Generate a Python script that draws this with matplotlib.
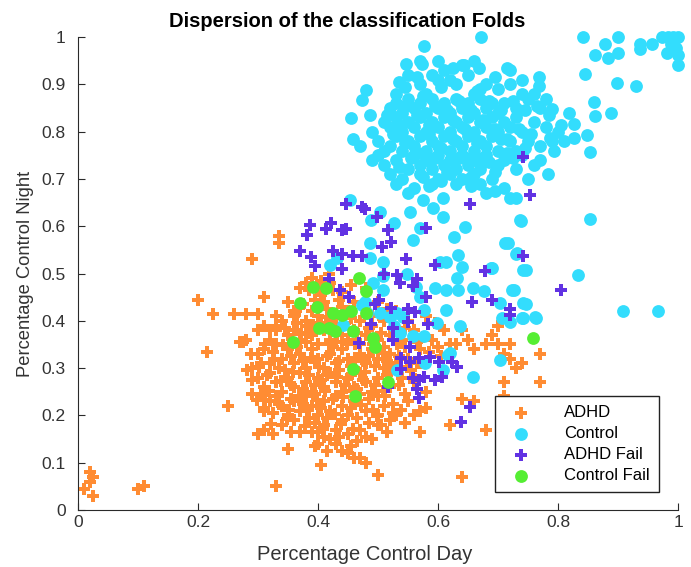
import numpy as np
import matplotlib.pyplot as plt

plt.rcParams['font.family'] = ['Liberation Sans', 'DejaVu Sans']

# (x, y) = (percentage control day, percentage control night)
adhd = [
    # stragglers
    (0.020, 0.080), (0.025, 0.070), (0.020, 0.060), (0.010, 0.045), (0.025, 0.030),
    (0.100, 0.045), (0.110, 0.050), (0.330, 0.050), (0.250, 0.220), (0.200, 0.445),
    (0.215, 0.335), (0.225, 0.415), (0.290, 0.530), (0.335, 0.580), (0.335, 0.565),
    (0.640, 0.070), (0.500, 0.075), (0.405, 0.095), (0.350, 0.130), (0.680, 0.170),
    (0.570, 0.165), (0.620, 0.180), (0.770, 0.330), (0.770, 0.270), (0.710, 0.270),
    (0.710, 0.240), (0.660, 0.230), (0.640, 0.235), (0.700, 0.390), (0.690, 0.370),
    (0.720, 0.350), (0.720, 0.320), (0.730, 0.300), (0.680, 0.350), (0.650, 0.360),
    (0.630, 0.350), (0.640, 0.380), (0.600, 0.345), (0.570, 0.340), (0.565, 0.310),
    (0.580, 0.215), (0.560, 0.200), (0.500, 0.200), (0.505, 0.180), (0.700, 0.350),
    (0.710, 0.330), (0.660, 0.340), (0.740, 0.310),
    (0.260, 0.415), (0.280, 0.415), (0.300, 0.415), (0.310, 0.390), (0.280, 0.360),
    (0.275, 0.355), (0.290, 0.275), (0.290, 0.245), (0.310, 0.215), (0.330, 0.380),
    (0.310, 0.450),
    # main cloud
    (0.39, 0.49), (0.40, 0.47), (0.37, 0.47), (0.42, 0.48), (0.44, 0.46), (0.46, 0.44),
    (0.48, 0.47), (0.50, 0.44), (0.35, 0.44), (0.36, 0.42),
    (0.33, 0.41), (0.34, 0.40), (0.36, 0.41), (0.37, 0.43), (0.38, 0.40), (0.39, 0.42),
    (0.41, 0.44), (0.43, 0.41), (0.45, 0.42), (0.47, 0.40), (0.49, 0.41), (0.51, 0.40),
    (0.53, 0.42), (0.55, 0.40), (0.58, 0.41), (0.42, 0.40), (0.40, 0.41), (0.44, 0.43),
    (0.31, 0.39), (0.32, 0.38),
    (0.30, 0.38), (0.32, 0.36), (0.33, 0.39), (0.35, 0.37), (0.36, 0.38), (0.37, 0.36),
    (0.38, 0.39), (0.39, 0.37), (0.40, 0.35), (0.41, 0.38), (0.42, 0.36), (0.43, 0.39),
    (0.44, 0.37), (0.45, 0.36), (0.46, 0.38), (0.47, 0.35), (0.48, 0.37), (0.49, 0.39),
    (0.50, 0.36), (0.52, 0.37), (0.54, 0.36), (0.56, 0.38), (0.59, 0.36), (0.61, 0.38),
    (0.62, 0.35), (0.33, 0.35), (0.38, 0.355), (0.43, 0.355), (0.51, 0.345), (0.28, 0.36),
    (0.27, 0.355),
    (0.30, 0.33), (0.31, 0.34), (0.32, 0.31), (0.34, 0.32), (0.35, 0.34), (0.36, 0.31),
    (0.37, 0.33), (0.38, 0.30), (0.39, 0.34), (0.40, 0.32), (0.41, 0.30), (0.42, 0.33),
    (0.43, 0.31), (0.44, 0.34), (0.45, 0.32), (0.46, 0.30), (0.47, 0.33), (0.48, 0.31),
    (0.49, 0.34), (0.50, 0.32), (0.51, 0.30), (0.52, 0.33), (0.53, 0.31), (0.55, 0.32),
    (0.57, 0.31), (0.335, 0.30), (0.365, 0.345), (0.395, 0.315), (0.425, 0.345),
    (0.455, 0.305), (0.485, 0.325), (0.515, 0.315), (0.29, 0.30), (0.305, 0.31),
    (0.30, 0.28), (0.31, 0.26), (0.32, 0.29), (0.33, 0.27), (0.34, 0.25), (0.35, 0.28),
    (0.36, 0.26), (0.37, 0.29), (0.38, 0.27), (0.39, 0.25), (0.40, 0.28), (0.41, 0.26),
    (0.42, 0.29), (0.43, 0.27), (0.44, 0.25), (0.45, 0.28), (0.46, 0.26), (0.47, 0.29),
    (0.48, 0.27), (0.49, 0.25), (0.50, 0.28), (0.52, 0.26), (0.54, 0.28), (0.56, 0.27),
    (0.58, 0.25), (0.345, 0.295), (0.375, 0.255), (0.405, 0.275), (0.435, 0.295),
    (0.465, 0.255),
    (0.31, 0.21), (0.32, 0.23), (0.33, 0.24), (0.34, 0.22), (0.35, 0.20), (0.36, 0.23),
    (0.37, 0.21), (0.38, 0.24), (0.39, 0.22), (0.40, 0.20), (0.41, 0.23), (0.42, 0.21),
    (0.43, 0.24), (0.44, 0.22), (0.45, 0.20), (0.46, 0.23), (0.48, 0.21), (0.50, 0.24),
    (0.51, 0.22), (0.53, 0.20), (0.55, 0.23), (0.57, 0.21), (0.325, 0.205), (0.395, 0.245),
    (0.47, 0.245),
    (0.30, 0.16), (0.31, 0.17), (0.325, 0.16), (0.34, 0.18), (0.36, 0.19), (0.37, 0.165),
    (0.39, 0.165), (0.40, 0.165), (0.41, 0.18), (0.43, 0.17), (0.44, 0.19), (0.45, 0.16),
    (0.47, 0.17), (0.48, 0.155), (0.49, 0.15), (0.50, 0.18), (0.42, 0.15), (0.52, 0.19),
    (0.40, 0.14), (0.43, 0.14), (0.44, 0.125), (0.45, 0.12), (0.46, 0.11), (0.47, 0.11),
    (0.48, 0.10), (0.41, 0.155),
    # fill between the rows
    (0.345, 0.385), (0.365, 0.395), (0.385, 0.375), (0.405, 0.395), (0.425, 0.385),
    (0.445, 0.395), (0.465, 0.375), (0.485, 0.385), (0.505, 0.375), (0.525, 0.385),
    (0.355, 0.325), (0.375, 0.315), (0.415, 0.325), (0.435, 0.315), (0.475, 0.315),
    (0.495, 0.305), (0.535, 0.325), (0.325, 0.335), (0.315, 0.285), (0.355, 0.265),
    (0.385, 0.285), (0.395, 0.265), (0.415, 0.285), (0.445, 0.265), (0.455, 0.285),
    (0.475, 0.275), (0.495, 0.265), (0.515, 0.285), (0.535, 0.265), (0.555, 0.295),
    (0.335, 0.225), (0.355, 0.235), (0.375, 0.225), (0.405, 0.215), (0.425, 0.235),
    (0.455, 0.215), (0.485, 0.235), (0.525, 0.225), (0.305, 0.245), (0.385, 0.195),
    (0.415, 0.195), (0.465, 0.195), (0.355, 0.165), (0.395, 0.185), (0.435, 0.155),
    (0.485, 0.185), (0.375, 0.435), (0.395, 0.445), (0.415, 0.425), (0.435, 0.445),
    (0.455, 0.405), (0.405, 0.455), (0.385, 0.465), (0.425, 0.465), (0.455, 0.475),
    (0.515, 0.425), (0.545, 0.385), (0.575, 0.365), (0.595, 0.395), (0.565, 0.355),
    (0.545, 0.345), (0.585, 0.335), (0.605, 0.325), (0.545, 0.245), (0.565, 0.255),
    (0.525, 0.205), (0.545, 0.185), (0.515, 0.165), (0.465, 0.145), (0.455, 0.135),
    (0.395, 0.135), (0.415, 0.125),
    (0.312, 0.352), (0.327, 0.318), (0.342, 0.348), (0.358, 0.292), (0.372, 0.372),
    (0.388, 0.322), (0.402, 0.302), (0.418, 0.352), (0.432, 0.282), (0.448, 0.352),
    (0.462, 0.322), (0.478, 0.292), (0.492, 0.352), (0.508, 0.332), (0.522, 0.302),
    (0.318, 0.252), (0.338, 0.272), (0.352, 0.212), (0.368, 0.242), (0.382, 0.212),
    (0.398, 0.232), (0.412, 0.252), (0.428, 0.202), (0.442, 0.238), (0.458, 0.252),
    (0.472, 0.222), (0.492, 0.212), (0.508, 0.252), (0.322, 0.182), (0.348, 0.192),
    (0.378, 0.178), (0.408, 0.172), (0.438, 0.182), (0.458, 0.172), (0.498, 0.198),
    (0.362, 0.412), (0.392, 0.392), (0.418, 0.408), (0.448, 0.418), (0.478, 0.428),
    (0.502, 0.412), (0.432, 0.372), (0.462, 0.352), (0.352, 0.352), (0.302, 0.302),
    (0.298, 0.232), (0.312, 0.232), (0.288, 0.330), (0.282, 0.295), (0.532, 0.352),
    (0.548, 0.302), (0.562, 0.278), (0.538, 0.212), (0.512, 0.242), (0.405, 0.485),
    (0.418, 0.500), (0.380, 0.480),
]

control = [
    # top right corner
    (0.842, 1.000), (0.878, 0.986), (0.900, 1.000), (0.900, 0.967), (0.861, 0.963),
    (0.883, 0.956), (0.937, 0.986), (0.937, 0.975), (0.956, 0.986), (0.974, 1.000),
    (0.983, 1.000), (0.992, 1.000), (1.000, 1.000), (0.981, 0.966), (1.000, 0.962),
    (1.000, 0.940), (0.989, 0.985), (0.996, 0.977), (0.845, 0.921), (0.930, 0.897),
    (0.899, 0.903), (0.860, 0.863), (0.889, 0.840), (0.862, 0.834), (0.853, 0.756),
    (0.849, 0.792), (0.827, 0.786), (0.783, 0.711), (0.794, 0.760), (0.786, 0.786),
    (0.805, 0.813), (0.827, 0.817), (0.819, 0.840), (0.790, 0.847), (0.768, 0.916),
    (0.768, 0.897),
    # top and left edge of the cloud
    (0.672, 1.000), (0.576, 0.981), (0.547, 0.943), (0.573, 0.943), (0.643, 0.940),
    (0.668, 0.935), (0.480, 0.887), (0.473, 0.866), (0.455, 0.828), (0.458, 0.784),
    (0.487, 0.836),
    # main cloud
    (0.55, 0.92), (0.57, 0.90), (0.59, 0.92), (0.60, 0.91), (0.61, 0.93), (0.62, 0.91),
    (0.63, 0.90), (0.65, 0.92), (0.67, 0.89), (0.68, 0.90), (0.70, 0.89), (0.72, 0.90),
    (0.74, 0.88), (0.64, 0.94), (0.66, 0.88), (0.53, 0.88), (0.58, 0.88),
    (0.52, 0.85), (0.53, 0.86), (0.54, 0.84), (0.55, 0.87), (0.56, 0.85), (0.57, 0.86),
    (0.58, 0.84), (0.59, 0.87), (0.60, 0.85), (0.61, 0.86), (0.62, 0.84), (0.63, 0.87),
    (0.64, 0.85), (0.65, 0.86), (0.66, 0.84), (0.67, 0.87), (0.68, 0.85), (0.69, 0.86),
    (0.70, 0.84), (0.71, 0.86), (0.73, 0.85), (0.75, 0.87), (0.77, 0.85), (0.76, 0.88),
    (0.51, 0.82), (0.52, 0.81), (0.53, 0.83), (0.54, 0.80), (0.55, 0.82), (0.56, 0.81),
    (0.57, 0.83), (0.58, 0.80), (0.59, 0.82), (0.60, 0.81), (0.61, 0.83), (0.62, 0.80),
    (0.63, 0.82), (0.64, 0.81), (0.65, 0.83), (0.66, 0.80), (0.67, 0.82), (0.68, 0.81),
    (0.69, 0.83), (0.70, 0.80), (0.71, 0.82), (0.72, 0.81), (0.73, 0.83), (0.74, 0.80),
    (0.76, 0.82), (0.78, 0.81), (0.80, 0.80), (0.49, 0.80),
    (0.50, 0.78), (0.52, 0.77), (0.53, 0.79), (0.54, 0.76), (0.55, 0.78), (0.56, 0.77),
    (0.57, 0.79), (0.58, 0.76), (0.59, 0.78), (0.60, 0.77), (0.61, 0.79), (0.62, 0.76),
    (0.63, 0.78), (0.64, 0.77), (0.65, 0.79), (0.66, 0.76), (0.67, 0.78), (0.68, 0.77),
    (0.69, 0.79), (0.70, 0.76), (0.72, 0.78), (0.73, 0.76), (0.75, 0.78), (0.77, 0.77),
    (0.50, 0.75), (0.51, 0.73), (0.53, 0.74), (0.55, 0.72), (0.56, 0.75), (0.57, 0.73),
    (0.58, 0.74), (0.59, 0.72), (0.60, 0.75), (0.61, 0.73), (0.62, 0.74), (0.63, 0.72),
    (0.64, 0.75), (0.65, 0.73), (0.66, 0.74), (0.67, 0.72), (0.68, 0.75), (0.70, 0.73),
    (0.71, 0.74), (0.73, 0.72), (0.74, 0.75), (0.76, 0.73),
    (0.52, 0.71), (0.53, 0.69), (0.54, 0.70), (0.56, 0.68), (0.57, 0.71), (0.59, 0.69),
    (0.60, 0.70), (0.62, 0.71), (0.63, 0.69), (0.64, 0.70), (0.66, 0.71), (0.67, 0.69),
    (0.69, 0.70), (0.71, 0.68), (0.72, 0.66), (0.73, 0.66), (0.68, 0.67), (0.55, 0.67),
    (0.575, 0.655),
    # fill between the rows
    (0.515, 0.835), (0.535, 0.815), (0.545, 0.855), (0.565, 0.835), (0.575, 0.875),
    (0.585, 0.815), (0.595, 0.855), (0.605, 0.895), (0.615, 0.845), (0.625, 0.825),
    (0.635, 0.865), (0.645, 0.805), (0.655, 0.845), (0.665, 0.885), (0.675, 0.825),
    (0.685, 0.865), (0.695, 0.805), (0.705, 0.845), (0.715, 0.785), (0.725, 0.865),
    (0.735, 0.805), (0.745, 0.845), (0.755, 0.795), (0.765, 0.855), (0.785, 0.835),
    (0.525, 0.795), (0.545, 0.775), (0.565, 0.755), (0.585, 0.795), (0.605, 0.765),
    (0.625, 0.785), (0.645, 0.745), (0.665, 0.775), (0.685, 0.735), (0.705, 0.785),
    (0.725, 0.745), (0.745, 0.765), (0.535, 0.725), (0.555, 0.745), (0.575, 0.705),
    (0.595, 0.745), (0.615, 0.715), (0.635, 0.745), (0.655, 0.705), (0.675, 0.745),
    (0.695, 0.715), (0.715, 0.755), (0.585, 0.685), (0.605, 0.695), (0.655, 0.685),
    (0.695, 0.675), (0.535, 0.905), (0.565, 0.915), (0.625, 0.935), (0.695, 0.915),
    (0.715, 0.935), (0.545, 0.895), (0.510, 0.760), (0.490, 0.740), (0.470, 0.770),
    (0.750, 0.700), (0.770, 0.740), (0.790, 0.780), (0.810, 0.780), (0.780, 0.870),
    (0.740, 0.910), (0.720, 0.930), (0.660, 0.950), (0.600, 0.950), (0.570, 0.950),
    # tail towards the ADHD cloud
    (0.453, 0.655), (0.489, 0.613), (0.503, 0.631), (0.526, 0.606), (0.487, 0.564),
    (0.487, 0.533), (0.509, 0.525), (0.420, 0.518), (0.431, 0.532), (0.553, 0.631),
    (0.559, 0.571), (0.570, 0.596), (0.592, 0.638), (0.609, 0.659), (0.609, 0.620),
    (0.626, 0.578), (0.645, 0.599), (0.603, 0.525), (0.614, 0.525), (0.634, 0.539),
    (0.640, 0.514), (0.631, 0.490), (0.595, 0.469), (0.614, 0.465), (0.634, 0.465),
    (0.659, 0.469), (0.676, 0.462), (0.689, 0.511), (0.737, 0.613), (0.712, 0.564),
    (0.731, 0.543), (0.742, 0.507), (0.726, 0.465), (0.742, 0.437), (0.703, 0.437),
    (0.706, 0.405), (0.720, 0.398), (0.740, 0.405), (0.762, 0.409), (0.637, 0.388),
    (0.614, 0.423), (0.598, 0.395), (0.576, 0.423), (0.570, 0.451), (0.564, 0.472),
    (0.548, 0.500), (0.509, 0.494), (0.492, 0.479), (0.509, 0.465), (0.473, 0.433),
    (0.481, 0.416), (0.503, 0.416), (0.520, 0.409), (0.531, 0.416), (0.542, 0.409),
    (0.526, 0.388), (0.537, 0.374), (0.559, 0.367), (0.576, 0.367), (0.620, 0.331),
    (0.609, 0.296), (0.578, 0.310), (0.531, 0.296), (0.659, 0.282), (0.703, 0.317),
    (0.442, 0.391), (0.478, 0.440), (0.746, 0.435), (0.763, 0.405), (0.741, 0.405),
    (0.834, 0.496), (0.908, 0.420), (0.967, 0.420), (0.853, 0.615), (0.738, 0.612),
    (0.716, 0.565), (0.730, 0.542), (0.746, 0.508), (0.724, 0.466), (0.690, 0.511),
    (0.617, 0.328),
]

adhd_fail = [
    (0.447, 0.647), (0.473, 0.641), (0.479, 0.637), (0.499, 0.620), (0.517, 0.593),
    (0.386, 0.602), (0.382, 0.582), (0.414, 0.595), (0.421, 0.607), (0.440, 0.592),
    (0.447, 0.595), (0.370, 0.547), (0.388, 0.534), (0.395, 0.515), (0.425, 0.548),
    (0.440, 0.542), (0.458, 0.538), (0.473, 0.538), (0.440, 0.510), (0.418, 0.489),
    (0.506, 0.557), (0.521, 0.566), (0.547, 0.531), (0.595, 0.519), (0.580, 0.597),
    (0.654, 0.647), (0.753, 0.666), (0.742, 0.747), (0.678, 0.505), (0.741, 0.538),
    (0.805, 0.466), (0.720, 0.424), (0.720, 0.412), (0.690, 0.444), (0.657, 0.440),
    (0.639, 0.187), (0.654, 0.218), (0.517, 0.260), (0.469, 0.353),
    (0.436, 0.466), (0.451, 0.450), (0.488, 0.393), (0.495, 0.435), (0.502, 0.443),
    (0.521, 0.427), (0.525, 0.385), (0.525, 0.359), (0.536, 0.481), (0.558, 0.473),
    (0.565, 0.489), (0.550, 0.424), (0.550, 0.397), (0.554, 0.344), (0.539, 0.321),
    (0.554, 0.313), (0.569, 0.321), (0.558, 0.279), (0.569, 0.275), (0.565, 0.256),
    (0.569, 0.237), (0.587, 0.324), (0.595, 0.275), (0.602, 0.313), (0.624, 0.313),
    (0.632, 0.302), (0.580, 0.450), (0.532, 0.496), (0.510, 0.500), (0.562, 0.418),
    (0.584, 0.393), (0.606, 0.282), (0.576, 0.282), (0.539, 0.298),
]

control_fail = [
    (0.469, 0.490), (0.391, 0.472), (0.413, 0.469), (0.370, 0.437), (0.398, 0.429),
    (0.480, 0.462), (0.359, 0.355), (0.401, 0.385), (0.418, 0.385), (0.428, 0.378),
    (0.458, 0.378), (0.440, 0.412), (0.455, 0.420), (0.480, 0.416), (0.492, 0.363),
    (0.495, 0.344), (0.458, 0.298), (0.462, 0.240), (0.759, 0.363), (0.517, 0.271),
    (0.425, 0.416),
]

series = [
    ('ADHD', adhd, 'P', '#ff8c33'),
    ('Control', control, 'o', '#33ddfd'),
    ('ADHD Fail', adhd_fail, 'P', '#6132e3'),
    ('Control Fail', control_fail, 'o', '#55ee33'),
]

fig = plt.figure(figsize=(6.91, 5.67), dpi=100)
ax = fig.add_axes([0.1129, 0.1005, 0.8683, 0.8342])

for label, pts, marker, color in series:
    pts = np.array(pts)
    ax.scatter(pts[:, 0], pts[:, 1], s=85, marker=marker, color=color,
               linewidths=0, label=label, clip_on=False)

ax.set_xlim(0, 1)
ax.set_ylim(0, 1)
ax.set_xticks(np.arange(0, 1.01, 0.2))
ax.set_yticks(np.arange(0, 1.01, 0.1))
ax.xaxis.set_major_formatter(plt.FuncFormatter(lambda v, p: '%g' % round(v, 2)))
ax.yaxis.set_major_formatter(plt.FuncFormatter(lambda v, p: '%g' % round(v, 2)))
ax.tick_params(direction='in', length=5, labelsize=12.5, colors='#2a2a2a',
               labelcolor='#333333')
ax.tick_params(axis='y', pad=9)
for side in ['top', 'right']:
    ax.spines[side].set_visible(False)
for side in ['left', 'bottom']:
    ax.spines[side].set_color('#2a2a2a')

ax.set_xlabel('Percentage Control Day', fontsize=14.5, color='#333333', labelpad=11)
ax.xaxis.set_label_coords(0.478, -0.075)
ax.set_ylabel('Percentage Control Night', fontsize=13.2, color='#333333', labelpad=5)
ax.set_title('Dispersion of the classification Folds', fontsize=14.5, fontweight='bold',
             pad=7, x=0.449)

leg = ax.legend(loc='lower right', bbox_to_anchor=(0.968, 0.038), fontsize=12,
                fancybox=False, edgecolor='#222222', framealpha=1, borderaxespad=0,
                handletextpad=1.6, borderpad=0.55, labelspacing=0.35)
leg.get_frame().set_linewidth(1)

fig.savefig('out.png', dpi=100)
